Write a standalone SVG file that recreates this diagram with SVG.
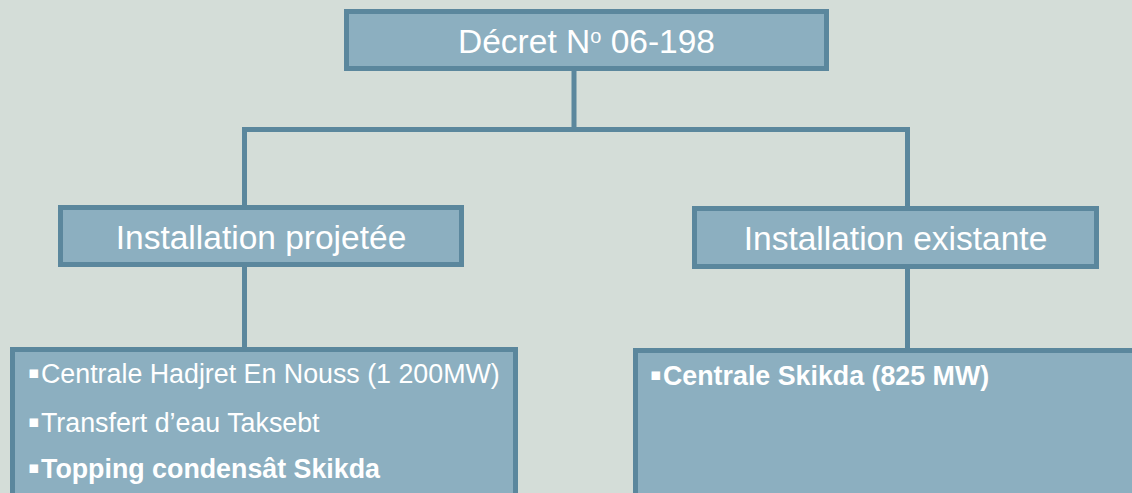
<svg xmlns="http://www.w3.org/2000/svg" width="1132" height="493" viewBox="0 0 1132 493">
  <style>
    .box { fill: #8cafc0; stroke: #5b879d; stroke-width: 5; }
    .link { fill: none; stroke: #5b879d; stroke-width: 5; }
    .title { font-family: "Liberation Sans", Arial, sans-serif; font-size: 33.5px; fill: #ffffff; text-anchor: middle; }
    .item { font-family: "Liberation Sans", Arial, sans-serif; font-size: 26.8px; fill: #ffffff; }
    .bold { font-weight: bold; }
    .bul { font-family: "DejaVu Sans", sans-serif; font-size: 17px; }
  </style>
  <rect x="0" y="0" width="1132" height="493" fill="#d4ddd8"/>

  <g id="connectors">
    <path class="link" d="M574 71 V129.5"/>
    <path class="link" d="M244.5 129.5 H907.5"/>
    <path class="link" d="M244.5 127 V205"/>
    <path class="link" d="M907.5 127 V206"/>
    <path class="link" d="M244.5 267 V347"/>
    <path class="link" d="M907.5 269 V348"/>
  </g>

  <g id="decret">
    <rect class="box" x="346.5" y="11.5" width="480" height="57"/>
    <text class="title" x="586.5" y="52.5">Décret N<tspan font-size="20" dy="-10">o</tspan><tspan dy="10"> 06-198</tspan></text>
  </g>

  <g id="projetee">
    <rect class="box" x="60.5" y="207.5" width="401" height="57"/>
    <text class="title" x="261" y="249">Installation projetée</text>
  </g>

  <g id="existante">
    <rect class="box" x="694.5" y="208.5" width="402" height="58"/>
    <text class="title" x="895.5" y="250">Installation existante</text>
  </g>

  <g id="projetee-list">
    <rect class="box" x="12.5" y="349.5" width="503" height="200"/>
    <text class="item" y="383"><tspan class="bul" x="28" dy="-5">▪</tspan><tspan x="41" dy="5">Centrale Hadjret En Nouss (1 200MW)</tspan></text>
    <text class="item" y="431.5"><tspan class="bul" x="28" dy="-5">▪</tspan><tspan x="41" dy="5">Transfert d’eau Taksebt</tspan></text>
    <text class="item bold" y="478"><tspan class="bul" x="28" dy="-5">▪</tspan><tspan x="41" dy="5">Topping condensât Skikda</tspan></text>
  </g>

  <g id="existante-list">
    <rect class="box" x="635.5" y="350.5" width="600" height="200"/>
    <text class="item bold" y="385"><tspan class="bul" x="650" dy="-5">▪</tspan><tspan x="663" dy="5">Centrale Skikda (825 MW)</tspan></text>
  </g>
</svg>
